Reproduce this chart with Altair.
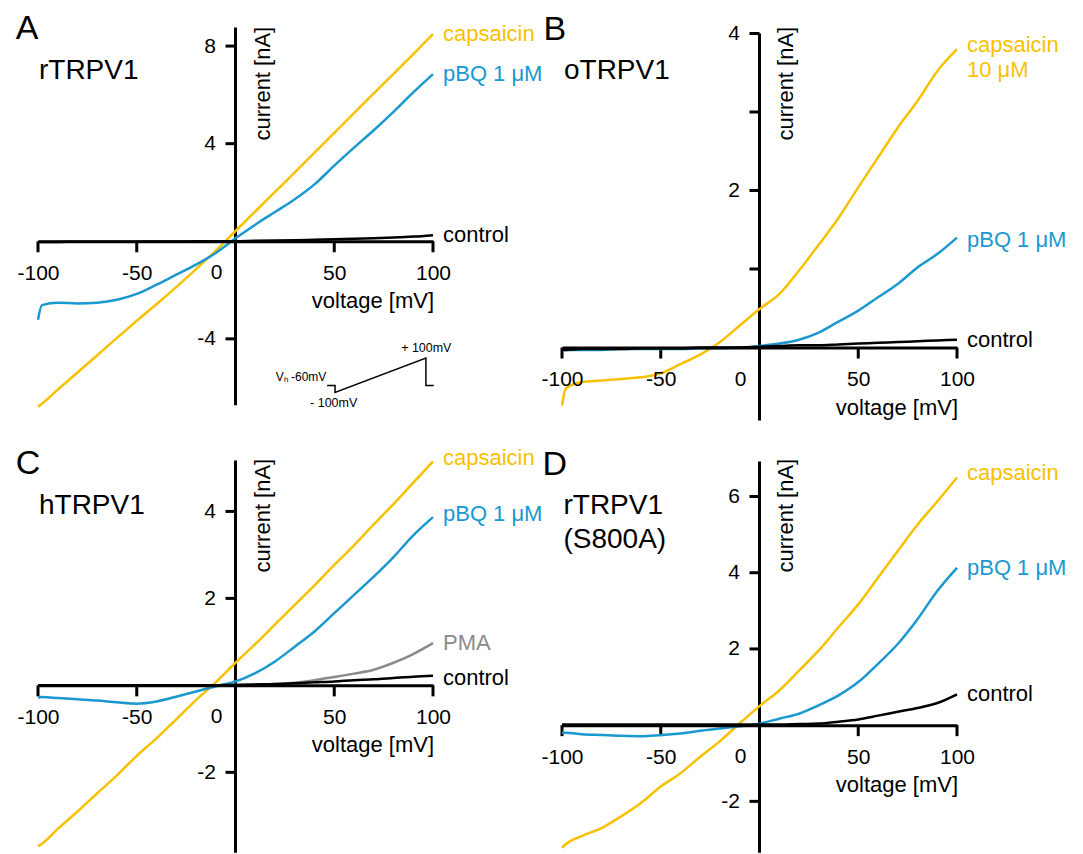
import altair as alt
import pandas as pd

FONT = "Liberation Sans"

# ---------------- data ----------------
V = [-100, -98, -90, -80, -70, -60, -50, -40, -30, -20, -10, 0,
     10, 20, 30, 40, 50, 60, 70, 80, 90, 100]

A_caps = [-6.78, -6.66, -6.08, -5.38, -4.67, -3.96, -3.26, -2.58, -1.88, -1.14, -0.39, 0.42,
          1.22, 2.02, 2.82, 3.63, 4.44, 5.25, 6.06, 6.86, 7.67, 8.49]
A_pbq = [-3.22, -2.62, -2.52, -2.55, -2.52, -2.40, -2.16, -1.78, -1.37, -0.96, -0.48, 0.12,
         0.68, 1.20, 1.72, 2.33, 3.10, 3.84, 4.55, 5.30, 6.10, 6.85]
A_ctrl = [-0.03, -0.03, -0.03, -0.02, -0.02, -0.02, -0.02, -0.01, -0.01, 0.0, 0.0, 0.0,
          0.02, 0.03, 0.04, 0.06, 0.08, 0.10, 0.12, 0.15, 0.19, 0.25]

B_caps = [-0.74, -0.52, -0.44, -0.42, -0.40, -0.38, -0.33, -0.21, -0.09, 0.07, 0.28, 0.49,
          0.68, 0.98, 1.31, 1.65, 2.04, 2.42, 2.80, 3.14, 3.52, 3.80]
B_pbq = [-0.03, -0.03, -0.03, -0.03, -0.02, -0.02, -0.02, -0.02, -0.01, -0.01, 0.0, 0.02,
         0.05, 0.10, 0.19, 0.33, 0.47, 0.64, 0.81, 1.02, 1.19, 1.40]
B_ctrl = [-0.03, -0.03, -0.02, -0.02, -0.02, -0.01, -0.01, -0.01, 0.0, 0.0, 0.0, 0.01,
          0.02, 0.03, 0.03, 0.04, 0.05, 0.06, 0.07, 0.08, 0.09, 0.10]

C_caps = [-3.70, -3.64, -3.30, -2.90, -2.48, -2.07, -1.62, -1.22, -0.78, -0.34, 0.07, 0.52,
          0.95, 1.40, 1.85, 2.30, 2.77, 3.22, 3.70, 4.17, 4.66, 5.15]
C_pbq = [-0.28, -0.27, -0.29, -0.32, -0.35, -0.39, -0.42, -0.37, -0.26, -0.14, -0.02, 0.09,
         0.28, 0.55, 0.89, 1.24, 1.66, 2.08, 2.50, 2.95, 3.45, 3.87]
C_pma = [0.0, 0.0, 0.0, 0.0, 0.0, 0.0, 0.0, 0.0, 0.0, 0.0, 0.0, 0.01,
         0.02, 0.03, 0.06, 0.12, 0.19, 0.27, 0.36, 0.52, 0.72, 0.97]
C_ctrl = [0.0, 0.0, 0.0, 0.0, 0.0, 0.0, 0.0, 0.0, 0.0, 0.0, 0.0, 0.01,
          0.02, 0.03, 0.05, 0.07, 0.09, 0.12, 0.14, 0.17, 0.20, 0.22]

D_caps = [-3.22, -3.12, -2.91, -2.70, -2.39, -2.04, -1.61, -1.26, -0.83, -0.42, 0.05, 0.50,
          0.91, 1.43, 1.96, 2.57, 3.17, 3.87, 4.57, 5.26, 5.87, 6.50]
D_pbq = [-0.20, -0.20, -0.24, -0.26, -0.28, -0.29, -0.26, -0.22, -0.15, -0.09, -0.03, 0.04,
         0.17, 0.30, 0.52, 0.78, 1.13, 1.61, 2.13, 2.78, 3.52, 4.13]
D_ctrl = [0.02, 0.02, 0.02, 0.02, 0.02, 0.02, 0.02, 0.02, 0.02, 0.02, 0.02, 0.02,
          0.02, 0.03, 0.04, 0.09, 0.15, 0.25, 0.35, 0.45, 0.58, 0.81]

# voltage protocol of the inset (time units, mV)
proto_t = [0, 8, 8, 100, 100, 108]
proto_v = [-60, -60, -100, 100, -60, -60]

X_TICKS = [-100, -50, 0, 50, 100]

YELLOW = "#F8C100"
BLUE = "#1A98CF"
GRAY = "#8A8A8A"
BLACK = "#000000"

W = 395
XTICK_LEN = 11
YTICK_LEN = 10


def panel(letter, letter_xy, names, ydom, yrule, yticks, ylabels, series, H, extra=None):
    ylo, yhi = ydom
    xs = alt.Scale(domain=[-100, 100], nice=False, zero=False)
    ys = alt.Scale(domain=[ylo, yhi], nice=False, zero=False)
    zero_px = (yhi - 0) / (yhi - ylo) * H
    xa = alt.Axis(values=X_TICKS, title=None, grid=False, domain=True, domainWidth=3,
                  domainColor=BLACK, ticks=False, labelFont=FONT, labelFontSize=21,
                  labelColor=BLACK, labelPadding=10 + XTICK_LEN, labelFlush=False,
                  labelOverlap=False,
                  labelExpr="datum.value === 0 ? '' : '' + datum.value",
                  offset=zero_px - H, zindex=1)
    lab = ",".join(str(v) for v in ylabels)
    ya = alt.Axis(values=yticks, title=None, grid=False, domain=False, ticks=False,
                  labelFont=FONT, labelFontSize=21, labelColor=BLACK,
                  labelPadding=10 + YTICK_LEN, labelOverlap=False,
                  labelExpr=f"indexof([{lab}], datum.value) >= 0 ? '' + datum.value : ''",
                  offset=-W / 2, zindex=1)

    def XD(v):
        return alt.XDatum(v, scale=xs, axis=xa)

    def YD(v):
        return alt.YDatum(v, scale=ys, axis=ya)

    one = pd.DataFrame({"a": [0]})
    layers = []
    # y axis line
    layers.append(alt.Chart(one).mark_rule(color=BLACK, strokeWidth=3).encode(
        x=XD(0), y=YD(yrule[0]), y2=alt.Y2Datum(yrule[1])))
    # x axis ticks (pointing down from the zero line)
    layers.append(alt.Chart(pd.DataFrame({"tx": X_TICKS, "z": [0] * len(X_TICKS)})).mark_tick(
        color=BLACK, orient="vertical", size=XTICK_LEN, thickness=3, yOffset=XTICK_LEN / 2,
        opacity=1).encode(
        x=alt.X("tx:Q", scale=xs, axis=xa), y=alt.Y("z:Q", scale=ys, axis=ya)))
    # y axis ticks (pointing left from the zero line)
    layers.append(alt.Chart(pd.DataFrame({"ty": yticks, "z": [0] * len(yticks)})).mark_tick(
        color=BLACK, orient="horizontal", size=YTICK_LEN, thickness=3, xOffset=-YTICK_LEN / 2,
        opacity=1).encode(
        y=alt.Y("ty:Q", scale=ys, axis=ya), x=alt.X("z:Q", scale=xs, axis=xa)))
    for txt, vals, col, dys in series:
        df = pd.DataFrame({"v": V, "i": vals})
        layers.append(alt.Chart(df).mark_line(color=col, strokeWidth=2.5, interpolate="monotone").encode(
            x=alt.X("v:Q", scale=xs, axis=xa),
            y=alt.Y("i:Q", scale=ys, axis=ya)))
    for txt, vals, col, dys in series:
        for line, dy in zip(txt, dys):
            layers.append(alt.Chart(one).mark_text(
                text=line, font=FONT, fontSize=22, color=col, align="left", baseline="middle",
                dx=10, dy=dy).encode(x=XD(100), y=YD(vals[-1])))
    layers.append(alt.Chart(one).mark_text(text="0", font=FONT, fontSize=21, color=BLACK,
                                           align="center", baseline="top", dx=-19, dy=21).encode(
        x=XD(0), y=YD(0)))
    layers.append(alt.Chart(one).mark_text(text="voltage [mV]", font=FONT, fontSize=22, color=BLACK,
                                           align="right", baseline="middle", dx=1, dy=60).encode(
        x=XD(100), y=YD(0)))
    layers.append(alt.Chart(one).mark_text(text="current [nA]", font=FONT, fontSize=22, color=BLACK,
                                           angle=270, align="right", baseline="alphabetic",
                                           dy=34).encode(
        x=XD(0), y=alt.value(0)))
    layers.append(alt.Chart(one).mark_text(text=letter, font=FONT, fontSize=34, color=BLACK,
                                           align="left", baseline="alphabetic").encode(
        x=alt.value(letter_xy[0]), y=alt.value(letter_xy[1])))
    for txt, nx, ny in names:
        layers.append(alt.Chart(one).mark_text(text=txt, font=FONT, fontSize=28, color=BLACK,
                                               align="left", baseline="middle").encode(
            x=alt.value(nx), y=alt.value(ny)))
    if extra is not None:
        layers.extend(extra(xs, ys, xa, ya))
    return alt.layer(*layers).properties(width=W, height=H)


def inset(xs, ys, xa, ya):
    df = pd.DataFrame({"t": proto_t, "v": proto_v, "k": list(range(len(proto_t)))})
    line = alt.Chart(df).transform_calculate(
        px="46.4 + 0.5 * datum.t", py="-5.49 + 0.00705 * datum.v"
    ).mark_line(color=BLACK, strokeWidth=1.5).encode(
        x=alt.X("px:Q", scale=xs, axis=xa), y=alt.Y("py:Q", scale=ys, axis=ya),
        order=alt.Order("k:Q"))
    one = pd.DataFrame({"a": [0]})

    def XD(v):
        return alt.XDatum(v, scale=xs, axis=xa)

    def YD(v):
        return alt.YDatum(v, scale=ys, axis=ya)

    out = [line]
    out.append(alt.Chart(one).mark_text(text="+ 100mV", font=FONT, fontSize=12.5, color=BLACK,
                                        align="center", baseline="middle").encode(
        x=XD(96.6), y=YD(-4.36)))
    out.append(alt.Chart(one).mark_text(text="- 100mV", font=FONT, fontSize=12.5, color=BLACK,
                                        align="center", baseline="middle").encode(
        x=XD(49.7), y=YD(-6.61)))
    out.append(alt.Chart(one).mark_text(text="-60mV", font=FONT, fontSize=12, color=BLACK,
                                        align="right", baseline="middle").encode(
        x=XD(46.0), y=YD(-5.55)))
    out.append(alt.Chart(one).mark_text(text="h", font=FONT, fontSize=8, color=BLACK,
                                        align="right", baseline="middle", dx=-38, dy=3).encode(
        x=XD(46.0), y=YD(-5.55)))
    out.append(alt.Chart(one).mark_text(text="V", font=FONT, fontSize=12, color=BLACK,
                                        align="right", baseline="middle", dx=-42.5).encode(
        x=XD(46.0), y=YD(-5.55)))
    return out


pA = panel("A", (-22.3, 11.8), [("rTRPV1", 1, 44)], (-7.40, 8.79), (-6.72, 8.76),
           [-4, 4, 8], [-4, 4, 8],
           [(["capsaicin"], A_caps, YELLOW, [0]),
            (["pBQ 1 μM"], A_pbq, BLUE, [0]),
            (["control"], A_ctrl, BLACK, [0])], 395, extra=inset)

pB = panel("B", (-18.5, 13.3), [("oTRPV1", 2, 44)], (-0.946, 4.085), (-0.93, 4.0),
           [1, 2, 3, 4], [2, 4],
           [(["capsaicin", "10 μM"], B_caps, YELLOW, [-4, 21]),
            (["pBQ 1 μM"], B_pbq, BLUE, [2]),
            (["control"], B_ctrl, BLACK, [0])], 395)

pC = panel("C", (-22.3, 15.3), [("hTRPV1", 1, 47)], (-3.85, 5.21), (-3.85, 5.17),
           [-2, 2, 4], [-2, 2, 4],
           [(["capsaicin"], C_caps, YELLOW, [-3]),
            (["pBQ 1 μM"], C_pbq, BLUE, [-3]),
            (["PMA"], C_pma, GRAY, [0]),
            (["control"], C_ctrl, BLACK, [2])], 394)

pD = panel("D", (-19.5, 16.3), [("rTRPV1", 1.5, 47), ("(S800A)", 1.5, 81)], (-3.35, 6.99),
           (-3.35, 6.92), [-2, 2, 4, 6], [-2, 2, 4, 6],
           [(["capsaicin"], D_caps, YELLOW, [-4]),
            (["pBQ 1 μM"], D_pbq, BLUE, [0]),
            (["control"], D_ctrl, BLACK, [0])], 394)

chart = alt.concat(pA, pB, pC, pD, columns=2, spacing={"row": 37, "column": 129},
                   bounds="flush").properties(
    padding={"left": 7, "top": 2.8, "right": 5, "bottom": 0}
).configure_view(stroke=None)

chart.save("out.html", embed_options={"renderer": "svg", "actions": False})
